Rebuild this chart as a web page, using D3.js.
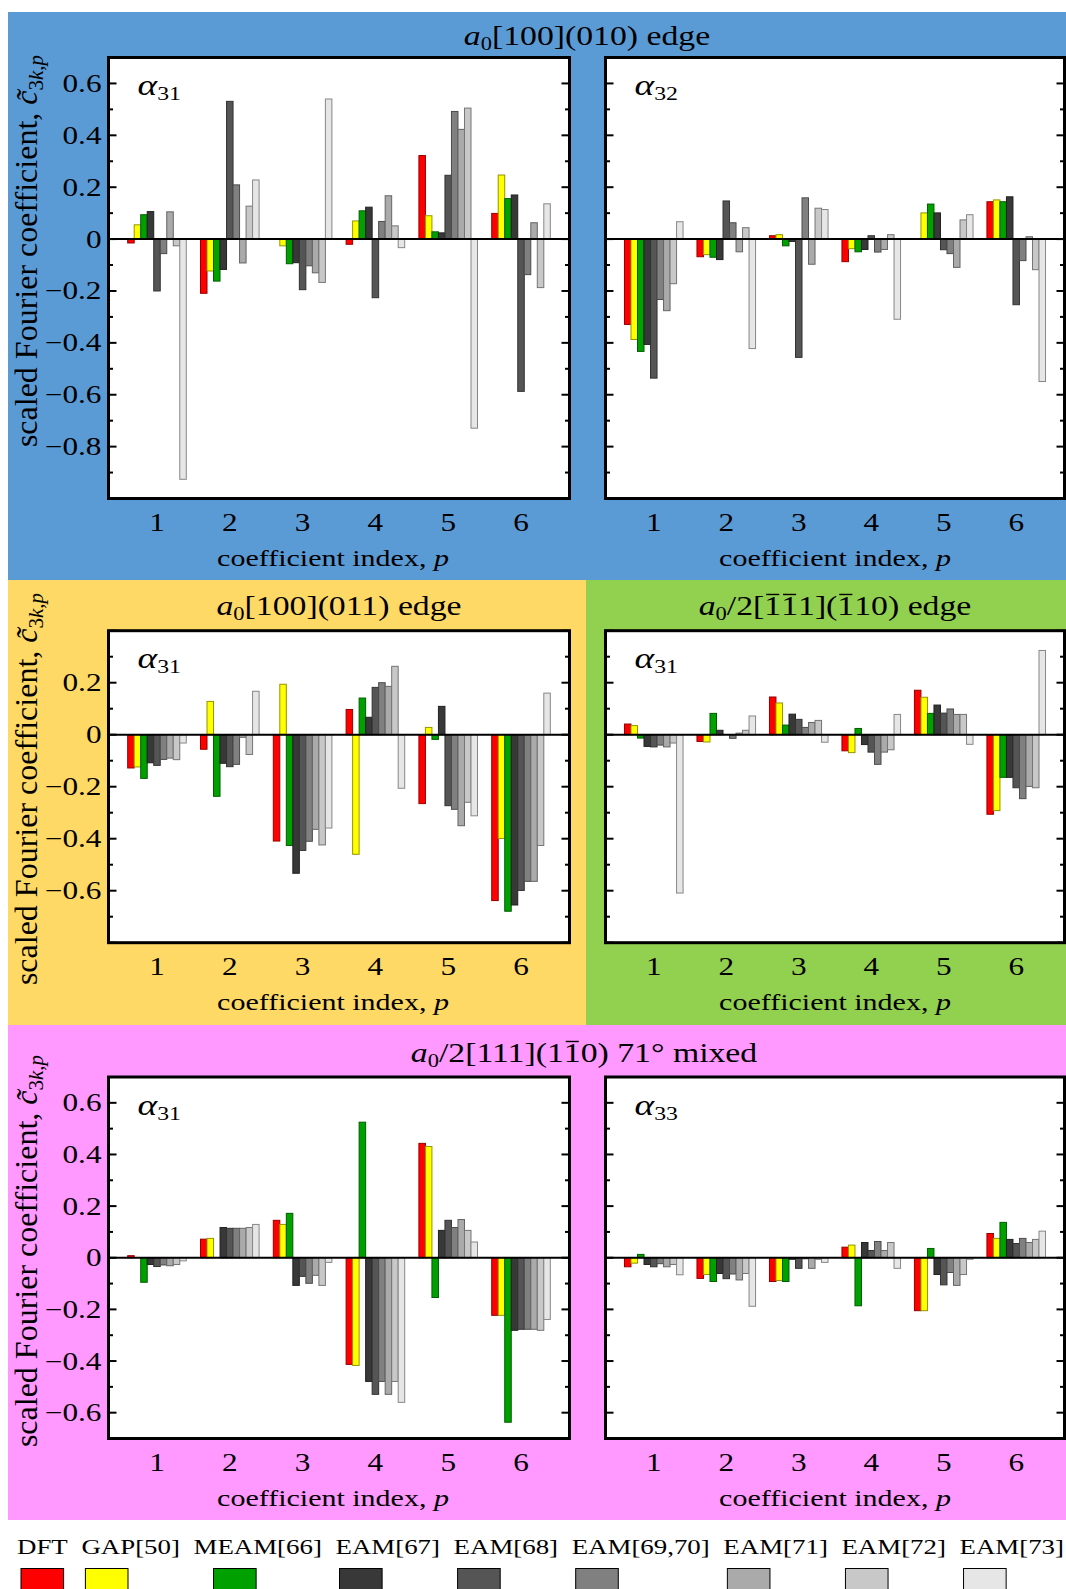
<!DOCTYPE html>
<html>
<head>
<meta charset="utf-8">
<script src="https://cdn.jsdelivr.net/npm/d3@7"></script>
<style>
body { margin: 0; background: #fff; }
svg text { font-family: "Liberation Serif", "Times New Roman", serif; fill: #000; }
</style>
</head>
<body>
<div id="chart"></div>
<script>
var series = ['DFT', 'GAP[50]', 'MEAM[66]', 'EAM[67]', 'EAM[68]', 'EAM[69,70]', 'EAM[71]', 'EAM[72]', 'EAM[73]'];
var colors = ['#ff0000', '#ffff00', '#00a000', '#383838', '#555555', '#808080', '#aaaaaa', '#c8c8c8', '#e6e6e6'];
var coefIndex = [1, 2, 3, 4, 5, 6];

// one row per coefficient index p, one column per potential (same order as series)
var edge010_a31 = [
    [-0.015, 0.055, 0.094, 0.106, -0.200, -0.056, 0.105, -0.026, -0.926],
    [-0.209, -0.123, -0.162, -0.117, 0.531, 0.209, -0.092, 0.127, 0.228],
    [0.000, -0.026, -0.095, -0.091, -0.195, -0.103, -0.130, -0.167, 0.540],
    [-0.020, 0.070, 0.109, 0.123, -0.226, 0.068, 0.167, 0.051, -0.033],
    [0.322, 0.090, 0.028, 0.024, 0.246, 0.492, 0.423, 0.505, -0.729],
    [0.099, 0.247, 0.156, 0.170, -0.587, -0.137, 0.063, -0.187, 0.136]
];
var edge010_a32 = [
    [-0.329, -0.387, -0.433, -0.406, -0.536, -0.233, -0.276, -0.172, 0.067],
    [-0.068, -0.060, -0.070, -0.079, 0.147, 0.063, -0.049, 0.044, -0.422],
    [0.013, 0.017, -0.026, -0.009, -0.456, 0.159, -0.097, 0.119, 0.114],
    [-0.087, -0.037, -0.049, -0.040, 0.013, -0.050, -0.040, 0.017, -0.309],
    [0.000, 0.101, 0.135, 0.101, -0.041, -0.056, -0.109, 0.074, 0.094],
    [0.144, 0.151, 0.144, 0.163, -0.253, -0.083, 0.009, -0.118, -0.549]
];
var edge011_a31 = [
    [-0.128, -0.124, -0.168, -0.108, -0.118, -0.095, -0.090, -0.096, -0.032],
    [-0.056, 0.128, -0.237, -0.110, -0.123, -0.114, -0.010, -0.076, 0.167],
    [-0.409, 0.194, -0.426, -0.533, -0.445, -0.410, -0.364, -0.424, -0.359],
    [0.097, -0.460, 0.141, 0.067, 0.182, 0.200, 0.186, 0.263, -0.206],
    [-0.265, 0.028, -0.018, 0.109, -0.273, -0.287, -0.350, -0.260, -0.312],
    [-0.638, -0.399, -0.679, -0.655, -0.599, -0.564, -0.564, -0.426, 0.160]
];
var edge110_a31 = [
    [0.041, 0.035, -0.013, -0.045, -0.047, -0.040, -0.047, -0.032, -0.609],
    [-0.026, -0.028, 0.082, 0.017, 0.000, -0.014, 0.006, 0.017, 0.072],
    [0.145, 0.122, 0.037, 0.079, 0.059, 0.028, 0.047, 0.055, -0.029],
    [-0.062, -0.069, 0.024, -0.038, -0.067, -0.114, -0.067, -0.058, 0.078],
    [0.171, 0.144, 0.082, 0.114, 0.083, 0.099, 0.078, 0.078, -0.037],
    [-0.306, -0.292, -0.164, -0.164, -0.204, -0.246, -0.199, -0.204, 0.324]
];
var mixed_a31 = [
    [0.008, 0.000, -0.095, -0.026, -0.034, -0.028, -0.031, -0.026, -0.012],
    [0.072, 0.075, 0.000, 0.117, 0.114, 0.114, 0.114, 0.117, 0.129],
    [0.145, 0.129, 0.172, -0.107, -0.072, -0.099, -0.068, -0.107, -0.018],
    [-0.413, -0.417, 0.525, -0.479, -0.529, -0.479, -0.529, -0.479, -0.560],
    [0.443, 0.431, -0.154, 0.106, 0.145, 0.117, 0.148, 0.106, 0.061],
    [-0.223, -0.223, -0.637, -0.281, -0.277, -0.277, -0.277, -0.281, -0.239]
];
var mixed_a33 = [
    [-0.035, -0.021, 0.013, -0.026, -0.035, -0.023, -0.035, -0.026, -0.066],
    [-0.080, -0.065, -0.092, -0.061, -0.081, -0.063, -0.086, -0.061, -0.188],
    [-0.092, -0.088, -0.092, -0.006, -0.041, -0.004, -0.041, -0.006, -0.018],
    [0.041, 0.049, -0.186, 0.059, 0.028, 0.063, 0.028, 0.059, -0.041],
    [-0.205, -0.205, 0.036, -0.065, -0.105, -0.057, -0.107, -0.065, -0.006],
    [0.094, 0.075, 0.137, 0.071, 0.055, 0.075, 0.059, 0.071, 0.103]
];

var W = 1066, H = 1589;
var SX = 1.25; // the reference's lettering is stretched sideways
var svg = d3.select('#chart').append('svg').attr('width', W).attr('height', H);

[
    [8, 12, 1058, 568, '#5b9bd5'],
    [8, 580, 578, 445, '#ffd966'],
    [586, 580, 480, 445, '#92d050'],
    [8, 1025, 1058, 495, '#ff99ff']
].forEach(function (b) {
    svg.append('rect').attr('x', b[0]).attr('y', b[1])
        .attr('width', b[2]).attr('height', b[3]).attr('fill', b[4]);
});

var cols = [[108.5, 569.5], [605.5, 1064.5]];
var rows = [
    { top: 57.5, bottom: 498.5, domain: [-1, 0.7], ylab: 251 },
    { top: 630.7, bottom: 942.7, domain: [-0.8, 0.4], ylab: 789 },
    { top: 1077, bottom: 1438.5, domain: [-0.7, 0.7], ylab: 1251 }
];
var panels = [
    { row: 0, col: 0, data: edge010_a31, sub: '31' },
    { row: 0, col: 1, data: edge010_a32, sub: '32' },
    { row: 1, col: 0, data: edge011_a31, sub: '31' },
    { row: 1, col: 1, data: edge110_a31, sub: '31' },
    { row: 2, col: 0, data: mixed_a31, sub: '31' },
    { row: 2, col: 1, data: mixed_a33, sub: '33' }
];

function stretched(g, x, y, size, anchor) {
    return g.append('text')
        .attr('transform', 'translate(' + x + ',' + y + ') scale(' + SX + ',1)')
        .attr('font-size', size)
        .attr('text-anchor', anchor || 'middle');
}

function tickText(v) {
    if (Math.abs(v) < 1e-9) return '0';
    return d3.format('.1f')(v);
}

function drawPanel(p) {
    var r = rows[p.row], c = cols[p.col];
    var y = d3.scaleLinear().domain(r.domain).range([r.bottom, r.top]);
    var x0 = d3.scalePoint().domain(coefIndex).range(c).padding(0.666);
    var x1 = d3.scaleBand().domain(series).range([-29.3, 29.3]);
    var g = svg.append('g');

    g.append('rect').attr('x', c[0]).attr('y', r.top)
        .attr('width', c[1] - c[0]).attr('height', r.bottom - r.top)
        .attr('fill', '#fff');

    var grp = g.selectAll('.grp').data(p.data).enter().append('g')
        .attr('transform', function (d, i) { return 'translate(' + x0(coefIndex[i]) + ',0)'; });
    grp.selectAll('rect').data(function (d) { return d; }).enter().append('rect')
        .attr('x', function (d, j) { return x1(series[j]); })
        .attr('width', x1.bandwidth())
        .attr('y', function (d) { return Math.min(y(d), y(0)); })
        .attr('height', function (d) { return Math.abs(y(d) - y(0)); })
        .attr('fill', function (d, j) { return colors[j]; })
        .attr('stroke', function (d, j) { return d3.color(colors[j]).darker(1.5); })
        .attr('stroke-width', 1)
        .attr('display', function (d) { return d === 0 ? 'none' : null; });

    g.append('line').attr('x1', c[0]).attr('x2', c[1])
        .attr('y1', y(0)).attr('y2', y(0))
        .attr('stroke', '#000').attr('stroke-width', 2);

    var ks = d3.range(Math.round(r.domain[0] * 10), Math.round(r.domain[1] * 10) + 1);
    ks.forEach(function (k) {
        var len = k % 2 === 0 ? 8 : 4.5;
        var yy = y(k / 10);
        g.append('line').attr('x1', c[0]).attr('x2', c[0] + len).attr('y1', yy).attr('y2', yy)
            .attr('stroke', '#000').attr('stroke-width', 2);
        g.append('line').attr('x1', c[1]).attr('x2', c[1] - len).attr('y1', yy).attr('y2', yy)
            .attr('stroke', '#000').attr('stroke-width', 2);
        var inside = k / 10 > r.domain[0] + 1e-9 && k / 10 < r.domain[1] - 1e-9;
        if (p.col === 0 && k % 2 === 0 && inside)
            stretched(svg, c[0] - 7, yy + 8.5, 25, 'end').text(tickText(k / 10));
    });

    g.append('rect').attr('x', c[0]).attr('y', r.top)
        .attr('width', c[1] - c[0]).attr('height', r.bottom - r.top)
        .attr('fill', 'none').attr('stroke', '#000').attr('stroke-width', 3);

    coefIndex.forEach(function (k) {
        stretched(svg, x0(k), r.bottom + 32.5, 25).text(k);
    });
    var xl = stretched(svg, (c[0] + c[1]) / 2 - (p.col === 0 ? 6 : 0), r.bottom + 67, 24);
    xl.append('tspan').text('coefficient index, ');
    xl.append('tspan').attr('font-style', 'italic').text('p');

    var al = stretched(svg, c[0] + 29, r.top + 37.5, 30, 'start');
    al.append('tspan').attr('font-style', 'italic').text('\u03b1');
    al.append('tspan').attr('font-size', 19).attr('dy', 5).text(p.sub);

    if (p.col === 0) {
        var yl = svg.append('text')
            .attr('transform', 'translate(37,' + r.ylab + ') rotate(-90)')
            .attr('text-anchor', 'middle').attr('font-size', 32);
        yl.append('tspan').text('scaled Fourier coefficient, ');
        yl.append('tspan').attr('font-style', 'italic').text('c\u0303');
        yl.append('tspan').attr('font-size', 21).attr('dy', 6).text('3');
        yl.append('tspan').attr('font-size', 21).attr('font-style', 'italic').text('k');
        yl.append('tspan').attr('font-size', 21).text(',');
        yl.append('tspan').attr('font-size', 21).attr('font-style', 'italic').text('p');
    }
}

panels.forEach(drawPanel);

// panel titles: pieces of [text, style]; 'bar' pieces get an overline
function title(x, y, parts) {
    var size = 27;
    var g = svg.append('g').attr('transform', 'translate(' + x + ',' + y + ') scale(' + SX + ',1)');
    var t = g.append('text').attr('font-size', size).attr('text-anchor', 'middle');
    var idx = 0, bars = [];
    parts.forEach(function (q) {
        var s = t.append('tspan').text(q[0]);
        if (q[1] === 'i') s.attr('font-style', 'italic');
        if (q[1] === 'sub') s.attr('font-size', 18).attr('dy', 5);
        if (q[1] === 'up') s.attr('dy', -5);
        if (q[1] === 'bar') bars.push(idx);
        idx += q[0].length;
    });
    bars.forEach(function (i) {
        var e = t.node().getExtentOfChar(i);
        g.append('line')
            .attr('x1', e.x + 1.5).attr('x2', e.x + e.width - 1.5)
            .attr('y1', -size * 0.76).attr('y2', -size * 0.76)
            .attr('stroke', '#000').attr('stroke-width', 1.4);
    });
}
title(587, 45, [['a', 'i'], ['0', 'sub'], ['[100](010) edge', 'up']]);
title(339, 615, [['a', 'i'], ['0', 'sub'], ['[100](011) edge', 'up']]);
title(835, 615, [['a', 'i'], ['0', 'sub'], ['/2[', 'up'], ['1', 'bar'], ['1', 'bar'],
    ['1](', ''], ['1', 'bar'], ['10) edge', '']]);
title(584, 1062, [['a', 'i'], ['0', 'sub'], ['/2[111](1', 'up'], ['1', 'bar'], ['0) 71\u00b0 mixed', '']]);

// legend: labels spread from the left edge to the right edge
var legendLeft = 17, legendRight = 1064;
var labels = series.map(function (s) {
    return stretched(svg, 0, 1554, 21.5, 'start').text(s);
});
var widths = labels.map(function (t) { return t.node().getComputedTextLength() * SX; });
var gap = (legendRight - legendLeft - d3.sum(widths)) / (series.length - 1);
var lx = legendLeft;
labels.forEach(function (t, j) {
    t.attr('transform', 'translate(' + lx + ',1554) scale(' + SX + ',1)');
    svg.append('rect').attr('x', lx + (j === 2 ? 20 : 4)).attr('y', 1568.5)
        .attr('width', 42.6).attr('height', 26)
        .attr('fill', colors[j]).attr('stroke', '#000').attr('stroke-width', 1);
    lx += widths[j] + gap;
});
</script>
</body>
</html>
